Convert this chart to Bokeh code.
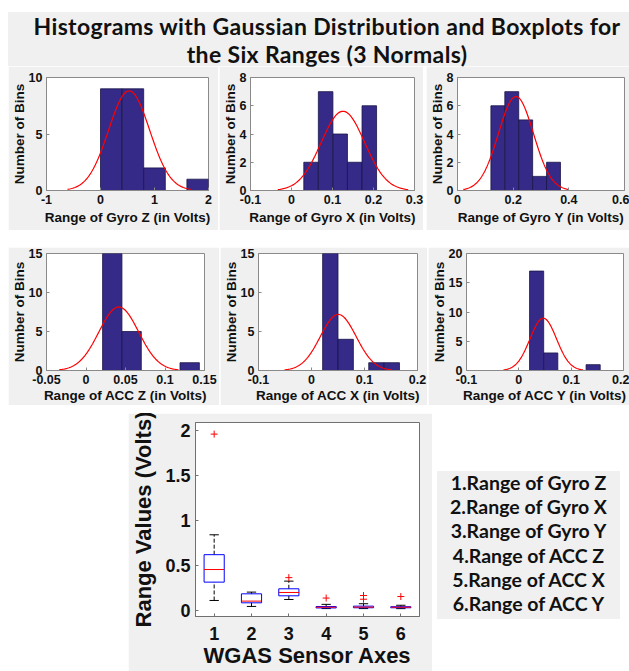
import numpy as np
from bokeh.plotting import figure
from bokeh.layouts import row, column
from bokeh.models import Div, Spacer, Range1d, FixedTicker
from bokeh.embed import file_html
from bokeh.resources import INLINE

# ---------------- data ----------------
title_line1 = "Histograms with Gaussian Distribution and Boxplots for"
title_line2 = "the Six Ranges (3 Normals)"

# histograms: bin edges, counts, fitted normal [mean, sigma]
gyro_z_edges = [0.0, 0.4, 0.8, 1.2, 1.6, 2.0]
gyro_z_counts = [9, 9, 2, 0, 1]
gyro_z_fit = [0.53, 0.38]

gyro_x_edges = [0.030, 0.0655, 0.101, 0.1365, 0.172, 0.2075]
gyro_x_counts = [2, 7, 4, 2, 6]
gyro_x_fit = [0.1255, 0.053]

gyro_y_edges = [0.12, 0.17, 0.22, 0.27, 0.32, 0.37]
gyro_y_counts = [6, 7, 5, 1, 2]
gyro_y_fit = [0.21, 0.063]

acc_z_edges = [0.021, 0.0455, 0.070, 0.0945, 0.119, 0.1435]
acc_z_counts = [15, 5, 0, 0, 1]
acc_z_fit = [0.0415, 0.0252]

acc_x_edges = [0.021, 0.050, 0.079, 0.108, 0.137, 0.166]
acc_x_counts = [15, 4, 0, 1, 1]
acc_x_fit = [0.0505, 0.0338]

acc_y_edges = [0.0205, 0.0475, 0.0745, 0.1015, 0.1285, 0.1555]
acc_y_counts = [17, 3, 0, 0, 1]
acc_y_fit = [0.0467, 0.0253]

# tick values / labels
gyro_z_xticks = [-1, 0, 1, 2]
gyro_z_xlabels = ["-1", "0", "1", "2"]
gyro_z_yticks = [0, 5, 10]
gyro_z_ylabels = ["0", "5", "10"]
gyro_x_xticks = [-0.1, 0, 0.1, 0.2, 0.3]
gyro_x_xlabels = ["-0.1", "0", "0.1", "0.2", "0.3"]
gyro_y_xticks = [0, 0.2, 0.4, 0.6]
gyro_y_xlabels = ["0", "0.2", "0.4", "0.6"]
bins8_yticks = [0, 2, 4, 6, 8]
bins8_ylabels = ["0", "2", "4", "6", "8"]
acc_z_xticks = [-0.05, 0, 0.05, 0.1, 0.15]
acc_z_xlabels = ["-0.05", "0", "0.05", "0.1", "0.15"]
acc_xy_xticks = [-0.1, 0, 0.1, 0.2]
acc_xy_xlabels = ["-0.1", "0", "0.1", "0.2"]
bins15_yticks = [0, 5, 10, 15]
bins15_ylabels = ["0", "5", "10", "15"]
bins20_yticks = [0, 5, 10, 15, 20]
bins20_ylabels = ["0", "5", "10", "15", "20"]

# boxplot statistics for the six axes
box_pos = [1, 2, 3, 4, 5, 6]
box_lo = [0.111, 0.045, 0.122, 0.021, 0.021, 0.0205]
box_q1 = [0.315, 0.085, 0.163, 0.028, 0.030, 0.030]
box_med = [0.455, 0.104, 0.200, 0.036, 0.037, 0.036]
box_q3 = [0.620, 0.185, 0.241, 0.044, 0.048, 0.042]
box_hi = [0.841, 0.204, 0.326, 0.068, 0.075, 0.058]
out_x = [1, 3, 4, 5, 5, 6]
out_y = [1.96, 0.365, 0.138, 0.125, 0.166, 0.155]
box_xticks = [1, 2, 3, 4, 5, 6]
box_xlabels = ["1", "2", "3", "4", "5", "6"]
box_yticks = [0, 0.5, 1, 1.5, 2]
box_ylabels = ["0", "0.5", "1", "1.5", "2"]

legend_lines = ["1.Range of Gyro Z", "2.Range of Gyro X", "3.Range of Gyro Y",
                "4.Range of ACC Z", "5.Range of ACC X", "6.Range of ACC Y"]

# ---------------- style ----------------
GRAY = "#f0f0f0"
BAR = "#352a87"
BAR_EDGE = "#1b1548"
AXC = "#8a8a8a"
TXT = "#111111"
AXFONT = "Liberation Sans"


def style_axes(p, xt, xl, yt, yl, tick_px, lab_px, xs1, xs2, ys1, ys2, xlabel, ylabel, axc):
    p.grid.visible = False
    p.xaxis.ticker = FixedTicker(ticks=xt)
    p.xaxis.major_label_overrides = dict(zip(xt, xl))
    p.yaxis.ticker = FixedTicker(ticks=yt)
    p.yaxis.major_label_overrides = dict(zip(yt, yl))
    for ax in (p.xaxis[0], p.yaxis[0]):
        ax.major_tick_in = 3
        ax.major_tick_out = 0
        ax.minor_tick_line_color = None
        ax.axis_line_color = axc
        ax.major_tick_line_color = axc
        ax.major_label_text_font = AXFONT
        ax.major_label_text_font_style = "bold"
        ax.major_label_text_font_size = tick_px
        ax.major_label_text_color = TXT
        ax.axis_label_text_font = AXFONT
        ax.axis_label_text_font_style = "bold"
        ax.axis_label_text_font_size = lab_px
        ax.axis_label_text_color = TXT
    p.xaxis.axis_label = xlabel
    p.yaxis.axis_label = ylabel
    p.xaxis.major_label_standoff = xs1
    p.xaxis.axis_label_standoff = xs2
    p.yaxis.major_label_standoff = ys1
    p.yaxis.axis_label_standoff = ys2


def hist_fig(edges, counts, fit, xlabel, xr, xt, xl, yr, yt, yl, w, h, b, xs2):
    bl, br, bt, bb = b
    p = figure(width=w, height=h, x_range=Range1d(*xr), y_range=Range1d(*yr),
               output_backend="svg", toolbar_location=None,
               min_border_left=bl, min_border_right=br, min_border_top=bt, min_border_bottom=bb,
               border_fill_color=GRAY, background_fill_color="white", outline_line_color=AXC)
    p.quad(left=edges[:-1], right=edges[1:], bottom=[0] * len(counts), top=counts,
           fill_color=BAR, line_color=BAR_EDGE, line_width=0.8)
    mu, sigma = fit
    n = sum(counts)
    bw = edges[1] - edges[0]
    xs = np.linspace(mu - 3 * sigma, mu + 3 * sigma, 121)
    ys = n * bw / (sigma * np.sqrt(2 * np.pi)) * np.exp(-0.5 * ((xs - mu) / sigma) ** 2)
    p.line(xs, ys, line_color="#ff0000", line_width=1.2)
    style_axes(p, xt, xl, yt, yl, "12.5px", "13.5px", 4, xs2, 4, -1, xlabel, "Number of Bins", AXC)
    return p


p1 = hist_fig(gyro_z_edges, gyro_z_counts, gyro_z_fit, "Range of Gyro Z (in Volts)",
              (-1, 2), gyro_z_xticks, gyro_z_xlabels, (0, 10), gyro_z_yticks, gyro_z_ylabels,
              210, 164, (34, 10, 11, 40), 3)
p2 = hist_fig(gyro_x_edges, gyro_x_counts, gyro_x_fit, "Range of Gyro X (in Volts)",
              (-0.1, 0.3), gyro_x_xticks, gyro_x_xlabels, (0, 8), bins8_yticks, bins8_ylabels,
              204, 164, (26, 9, 9, 37), 3)
p3 = hist_fig(gyro_y_edges, gyro_y_counts, gyro_y_fit, "Range of Gyro Y (in Volts)",
              (0, 0.6), gyro_y_xticks, gyro_y_xlabels, (0, 8), bins8_yticks, bins8_ylabels,
              203, 164, (26, 5, 9, 37), 3)
p4 = hist_fig(acc_z_edges, acc_z_counts, acc_z_fit, "Range of ACC Z (in Volts)",
              (-0.05, 0.15), acc_z_xticks, acc_z_xlabels, (0, 15), bins15_yticks, bins15_ylabels,
              211, 158, (34, 15, 6, 35), 1)
p5 = hist_fig(acc_x_edges, acc_x_counts, acc_x_fit, "Range of ACC X (in Volts)",
              (-0.1, 0.2), acc_xy_xticks, acc_xy_xlabels, (0, 15), bins15_yticks, bins15_ylabels,
              207, 158, (33, 10, 6, 35), 1)
p6 = hist_fig(acc_y_edges, acc_y_counts, acc_y_fit, "Range of ACC Y (in Volts)",
              (-0.1, 0.2), acc_xy_xticks, acc_xy_xlabels, (0, 20), bins20_yticks, bins20_ylabels,
              201, 158, (35, 6, 6, 35), 1)

# ---------------- boxplot ----------------
bp = figure(width=304, height=258, x_range=Range1d(0.5, 6.5), y_range=Range1d(-0.067, 2.089),
            output_backend="svg", toolbar_location=None,
            min_border_left=62, min_border_right=13, min_border_top=9, min_border_bottom=55,
            border_fill_color=GRAY, background_fill_color="white", outline_line_color="#707070")
pos = np.array(box_pos, dtype=float)
HALF = 0.27
CAP = 0.125
bp.segment(x0=pos, y0=box_q3, x1=pos, y1=box_hi, line_color="black", line_dash="4 2", line_width=1)
bp.segment(x0=pos, y0=box_lo, x1=pos, y1=box_q1, line_color="black", line_dash="4 2", line_width=1)
bp.segment(x0=pos - CAP, y0=box_hi, x1=pos + CAP, y1=box_hi, line_color="black", line_width=1)
bp.segment(x0=pos - CAP, y0=box_lo, x1=pos + CAP, y1=box_lo, line_color="black", line_width=1)
bp.quad(left=pos - HALF, right=pos + HALF, bottom=box_q1, top=box_q3,
        fill_color=None, line_color="#0000ff", line_width=1)
bp.segment(x0=pos - HALF, y0=box_med, x1=pos + HALF, y1=box_med, line_color="#ff0000", line_width=1)
bp.scatter(out_x, out_y, marker="cross", size=7, line_color="#ff0000", line_width=1)
style_axes(bp, box_xticks, box_xlabels, box_yticks, box_ylabels, "18px", "22px", 10, 0, 5, 6,
           "WGAS Sensor Axes", "Range Values (Volts)", "#707070")

# ---------------- title & legend ----------------
title_div = Div(
    text=(f'<div style="width:621px;height:54px;background:{GRAY};box-sizing:border-box;'
          f'padding-left:17px;padding-top:0px;text-align:center;white-space:nowrap;'
          f'font-family:Lato;font-weight:bold;font-size:23px;letter-spacing:0.35px;'
          f'line-height:28px;color:#111;">'
          f'{title_line1}<br>{title_line2}</div>'),
    width=621, height=54, margin=0)

legend_html = "<br>".join(legend_lines)
legend_div = Div(
    text=(f'<div style="width:183px;height:148px;background:{GRAY};box-sizing:border-box;'
          f'text-align:center;white-space:nowrap;font-family:Lato;font-weight:bold;'
          f'font-size:19.5px;line-height:24.2px;color:#111;">{legend_html}</div>'),
    width=183, height=148, margin=0)


def sp(w, h):
    return Spacer(width=w, height=h, margin=0)


row0 = row(sp(8, 54), title_div, spacing=0)
row1 = row(sp(8, 164), p1, sp(1, 164), p2, sp(3, 164), p3, spacing=0)
row2 = row(sp(8, 158), p4, sp(1, 158), p5, sp(1, 158), p6, spacing=0)
leg_col = column(sp(183, 58), legend_div, spacing=0)
row3 = row(sp(128, 258), bp, sp(5, 258), leg_col, spacing=0)

layout = column(sp(629, 12), row0, row1, sp(629, 17), row2, sp(629, 8), row3, spacing=0)

open("out.html", "w").write(file_html(layout, INLINE))
